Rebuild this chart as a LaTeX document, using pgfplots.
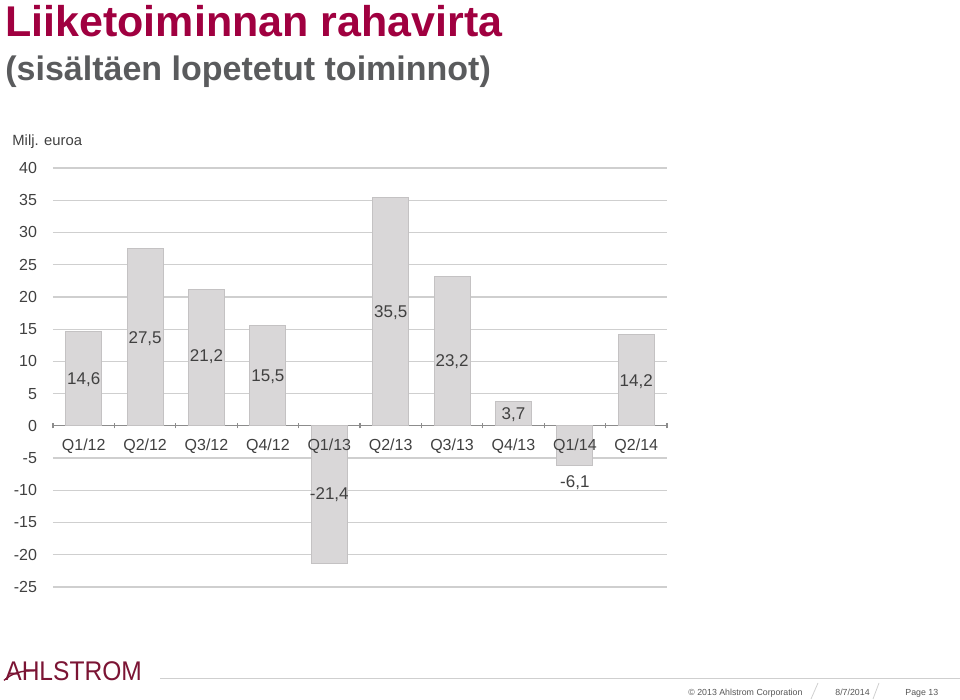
\documentclass[border=0pt]{standalone}
\usepackage{pgfplots}
\pgfplotsset{compat=1.18}
\usepackage{fontspec}
\setmainfont{Liberation Sans}
\definecolor{titlered}{HTML}{A00040}
\definecolor{subgray}{HTML}{5A5B5D}
\definecolor{labgray}{HTML}{404040}
\definecolor{barfill}{HTML}{D9D7D8}
\definecolor{baredge}{HTML}{C4C2C3}
\definecolor{gridgray}{HTML}{CFCFCF}
\definecolor{axisgray}{HTML}{8C8C8C}
\definecolor{logored}{HTML}{7B1434}
\definecolor{footgray}{HTML}{555555}
\begin{document}
\begin{tikzpicture}
\path[use as bounding box] (0,0) rectangle (480pt,350pt);
\node[anchor=base west, inner sep=0, font=\fontsize{21.5}{24}\selectfont\bfseries, text=titlered] at (2.5pt,331.5pt) {Liiketoiminnan rahavirta};
\node[anchor=base west, inner sep=0, font=\fontsize{17}{20}\selectfont\bfseries, text=subgray] at (2.5pt,309.5pt) {(sisältäen lopetetut toiminnot)};
\node[anchor=base west, inner sep=0, font=\fontsize{7.4}{9}\selectfont, text=labgray] at (6pt,277pt) {Milj. euroa};
\begin{axis}[
  at={(26.5pt,56.5pt)}, anchor=south west,
  scale only axis, width=307pt, height=209.5pt,
  xmin=-0.5, xmax=9.5, ymin=-25, ymax=40,
  ytick={-25,-20,...,40},
  xtick={0,...,9},
  xticklabels={},
  minor xtick={-0.5,0.5,...,9.5},
  axis x line*=middle, axis y line*=left,
  y axis line style={draw=none},
  x axis line style={draw=axisgray, line width=0.6pt},
  ymajorgrids, grid style={gridgray, line width=0.6pt},
  major tick length=0pt,
  minor tick length=2.5pt,
  every minor tick/.append style={draw=axisgray, line width=0.6pt, yshift=-1.25pt},
  /pgf/number format/assume math mode=true,
  tick label style={font=\fontsize{8}{9.6}\selectfont, text=labgray},
  yticklabel style={xshift=-4.5pt},
]
\addplot[ybar, bar width=18pt, fill=barfill, draw=baredge, line width=0.5pt]
  coordinates {(0,14.6) (1,27.5) (2,21.2) (3,15.5) (4,-21.4) (5,35.5) (6,23.2) (7,3.7) (8,-6.1) (9,14.2)};
\tikzset{dl/.style={font=\fontsize{8.5}{10}\selectfont, text=labgray, inner sep=0},
         cl/.style={font=\fontsize{8}{9.6}\selectfont, text=labgray, inner sep=0, anchor=base, yshift=-12.5pt}}
\node[dl] at (axis cs:0,7.1) {14,6};
\node[dl] at (axis cs:1,13.5) {27,5};
\node[dl] at (axis cs:2,10.7) {21,2};
\node[dl] at (axis cs:3,7.6) {15,5};
\node[dl] at (axis cs:4,-10.7) {-21,4};
\node[dl] at (axis cs:5,17.5) {35,5};
\node[dl] at (axis cs:6,9.9) {23,2};
\node[dl] at (axis cs:7,1.8) {3,7};
\node[dl] at (axis cs:8,-8.8) {-6,1};
\node[dl] at (axis cs:9,6.8) {14,2};
% category labels (drawn above the bars)
\node[cl] at (axis cs:0,0) {Q1/12};
\node[cl] at (axis cs:1,0) {Q2/12};
\node[cl] at (axis cs:2,0) {Q3/12};
\node[cl] at (axis cs:3,0) {Q4/12};
\node[cl] at (axis cs:4,0) {Q1/13};
\node[cl] at (axis cs:5,0) {Q2/13};
\node[cl] at (axis cs:6,0) {Q3/13};
\node[cl] at (axis cs:7,0) {Q4/13};
\node[cl] at (axis cs:8,0) {Q1/14};
\node[cl] at (axis cs:9,0) {Q2/14};
\end{axis}
% footer
\node[anchor=base west, inner sep=0, font=\fontsize{13.5}{14}\selectfont, text=logored, xscale=0.91] at (2.5pt,9.5pt) {AHLSTROM};
\draw[logored, line width=0.7pt] (2pt,9.8pt) .. controls (6pt,13.5pt) and (11pt,14.8pt) .. (17pt,14.6pt);
\draw[gridgray, line width=0.5pt] (80pt,10.5pt) -- (480pt,10.5pt);
\node[anchor=base west, inner sep=0, font=\fontsize{4.4}{5}\selectfont, text=footgray] at (344pt,2.2pt) {© 2013 Ahlstrom Corporation};
\node[anchor=base west, inner sep=0, font=\fontsize{4.4}{5}\selectfont, text=footgray] at (417.5pt,2.2pt) {8/7/2014};
\node[anchor=base west, inner sep=0, font=\fontsize{4.4}{5}\selectfont, text=footgray] at (452.5pt,2.2pt) {Page 13};
\draw[gridgray, line width=0.4pt] (405.5pt,0.5pt) -- (409pt,8.5pt);
\draw[gridgray, line width=0.4pt] (436.5pt,0.5pt) -- (439.5pt,8.5pt);
\end{tikzpicture}
\end{document}
